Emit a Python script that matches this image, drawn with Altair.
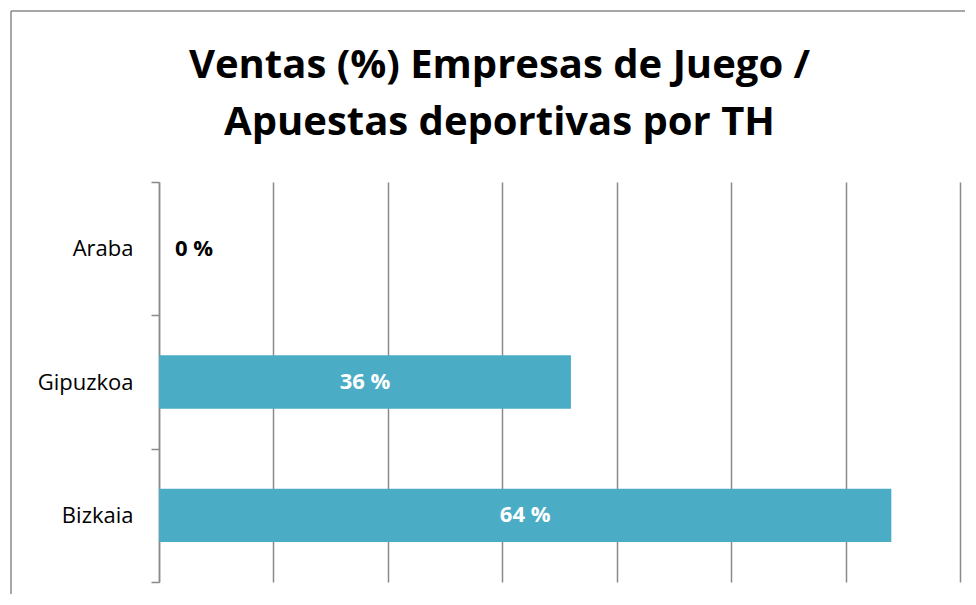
import altair as alt
import pandas as pd

regions = ["Araba", "Gipuzkoa", "Bizkaia"]
values = [0, 36, 64]
title_lines = ["Ventas (%) Empresas de Juego /", "Apuestas deportivas por TH"]

df = pd.DataFrame({"region": regions, "value": values})
frame_df = pd.DataFrame({"k": [0]})

FONT = "Open Sans"
GRID = "#8a8a8a"
BAR = "#4BACC6"

y_enc = alt.Y(
    "region:N",
    sort=regions,
    scale=alt.Scale(paddingInner=0, paddingOuter=0),
    axis=alt.Axis(
        title=None,
        tickBand="extent",
        tickSize=8,
        tickColor=GRID,
        domainColor=GRID,
        tickWidth=1.5,
        domainWidth=1.5,
        labelPadding=18,
        labelFontSize=22,
        labelFont=FONT,
        labelColor="black",
        grid=False,
    ),
)

x_enc = alt.X(
    "value:Q",
    scale=alt.Scale(domain=[0, 70], nice=False),
    axis=alt.Axis(
        title=None,
        values=[0, 10, 20, 30, 40, 50, 60, 70],
        labels=False,
        ticks=False,
        domain=False,
        grid=True,
        gridColor=GRID,
        gridWidth=1.5,
    ),
)

base = alt.Chart(df)

bars = base.mark_bar(color=BAR, height=alt.RelativeBandSize(0.4)).encode(x=x_enc, y=y_enc)

labels_in = (
    base.transform_filter("datum.value > 0")
    .transform_calculate(mid="datum.value / 2", txt="datum.value + ' %'")
    .mark_text(color="white", fontWeight="bold", fontSize=22, font=FONT, align="center", baseline="middle")
    .encode(x=alt.X("mid:Q"), y=alt.Y("region:N", sort=regions), text="txt:N")
)

labels_zero = (
    base.transform_filter("datum.value == 0")
    .transform_calculate(txt="datum.value + ' %'")
    .mark_text(color="black", fontWeight="bold", fontSize=22, font=FONT, align="left", baseline="middle", dx=16)
    .encode(x=alt.X("value:Q"), y=alt.Y("region:N", sort=regions), text="txt:N")
)

frame_left = alt.Chart(frame_df).mark_rule(color=GRID, strokeWidth=1.5).encode(
    x=alt.value(-148), y=alt.value(-171), y2=alt.value(412)
)
frame_top = alt.Chart(frame_df).mark_rule(color=GRID, strokeWidth=1.5).encode(
    x=alt.value(-148), x2=alt.value(806), y=alt.value(-171)
)

chart = (
    alt.layer(frame_left, frame_top, bars, labels_in, labels_zero)
    .properties(
        width=801,
        height=400,
        padding=2,
        title=alt.TitleParams(
            text=title_lines,
            font=FONT,
            fontSize=40,
            fontWeight="bold",
            color="black",
            anchor="middle",
            frame="group",
            dx=-60,
            lineHeight=57,
            offset=-133,
        ),
    )
    .configure_view(stroke=None)
)

chart.save("out.html", embed_options={"renderer": "svg", "actions": False})
